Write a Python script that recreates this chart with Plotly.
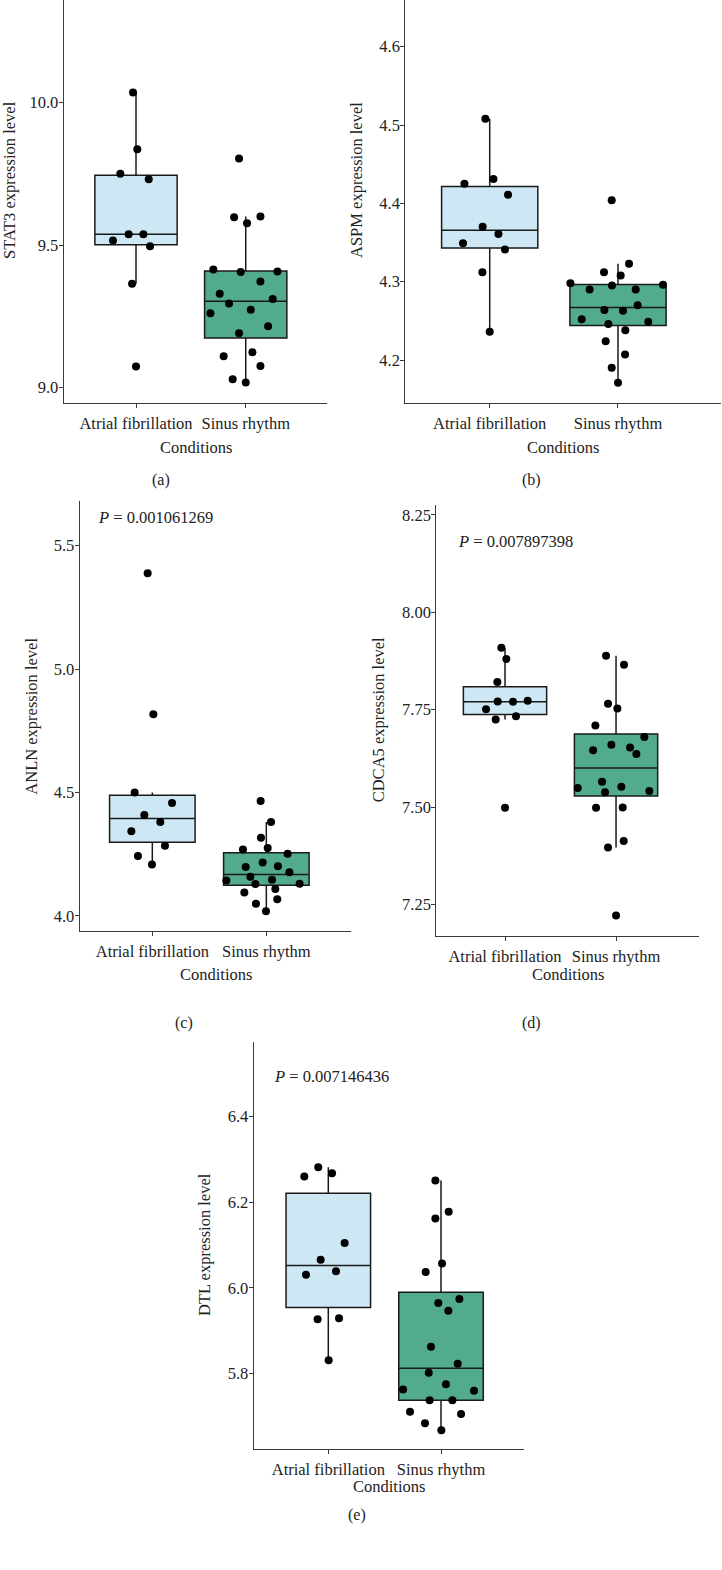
import numpy as np
import plotly.graph_objects as go

W, H = 722, 1570

categories = ["Atrial fibrillation", "Sinus rhythm"]
box_colors = ["#CDE8F4", "#52AA8F"]

# ---------- data ----------
stat3_af = [10.035, 9.836, 9.750, 9.731, 9.538, 9.538, 9.516, 9.496, 9.364, 9.074]
stat3_af_jit = [-0.027, 0.012, -0.143, 0.116, -0.067, 0.067, -0.210, 0.128, -0.036, 0.0]
stat3_sr = [9.804, 9.598, 9.600, 9.577, 9.414, 9.406, 9.407, 9.372, 9.329, 9.311,
            9.295, 9.273, 9.261, 9.215, 9.191, 9.124, 9.110, 9.076, 9.029, 9.018]
stat3_sr_jit = [-0.061, -0.106, 0.134, 0.012, -0.295, -0.046, 0.289, 0.134, -0.237, 0.246,
                -0.152, 0.046, -0.322, 0.204, -0.061, 0.061, -0.201, 0.134, -0.119, 0.0]

aspm_af = [4.508, 4.431, 4.425, 4.411, 4.370, 4.361, 4.349, 4.341, 4.312, 4.236]
aspm_af_jit = [-0.034, 0.029, -0.197, 0.143, -0.055, 0.068, -0.208, 0.119, -0.057, 0.0]
aspm_sr = [4.404, 4.323, 4.312, 4.308, 4.298, 4.296, 4.295, 4.290, 4.290, 4.270,
           4.264, 4.263, 4.252, 4.249, 4.246, 4.238, 4.224, 4.207, 4.190, 4.171]
aspm_sr_jit = [-0.049, 0.086, -0.109, 0.021, -0.371, 0.351, -0.047, -0.221, 0.138, 0.153,
               -0.106, 0.039, -0.283, 0.236, -0.075, 0.057, -0.096, 0.055, -0.049, 0.0]

anln_af = [5.388, 4.817, 4.500, 4.458, 4.409, 4.381, 4.343, 4.284, 4.243, 4.209]
anln_af_jit = [-0.041, 0.009, -0.155, 0.173, -0.070, 0.070, -0.184, 0.111, -0.126, -0.003]
anln_sr = [4.466, 4.381, 4.317, 4.269, 4.275, 4.252, 4.217, 4.198, 4.201, 4.177,
           4.159, 4.144, 4.147, 4.130, 4.131, 4.109, 4.095, 4.068, 4.050, 4.019]
anln_sr_jit = [-0.050, 0.041, -0.047, -0.205, 0.012, 0.187, -0.032, -0.181, 0.102, 0.202,
               -0.140, -0.351, 0.050, -0.096, 0.292, 0.079, -0.193, 0.096, -0.091, -0.003]

cdca5_af = [7.909, 7.880, 7.821, 7.771, 7.770, 7.773, 7.751, 7.725, 7.733, 7.498]
cdca5_af_jit = [-0.033, 0.012, -0.069, -0.066, 0.072, 0.204, -0.171, -0.084, 0.099, 0.0]
cdca5_sr = [7.888, 7.865, 7.765, 7.753, 7.709, 7.680, 7.660, 7.653, 7.646, 7.636,
            7.565, 7.552, 7.549, 7.541, 7.538, 7.498, 7.499, 7.413, 7.396, 7.222]
cdca5_sr_jit = [-0.090, 0.072, -0.072, 0.012, -0.186, 0.255, -0.042, 0.126, -0.207, 0.183,
                -0.126, 0.048, -0.345, 0.300, -0.099, -0.180, 0.060, 0.069, -0.072, 0.0]

dtl_af = [6.282, 6.260, 6.268, 6.105, 6.066, 6.039, 6.031, 5.927, 5.929, 5.831]
dtl_af_jit = [-0.089, -0.213, 0.033, 0.145, -0.068, 0.068, -0.198, -0.095, 0.095, 0.003]
dtl_sr = [6.251, 6.178, 6.162, 6.057, 6.037, 5.974, 5.965, 5.947, 5.863, 5.823,
          5.802, 5.775, 5.763, 5.760, 5.738, 5.738, 5.711, 5.706, 5.684, 5.668]
dtl_sr_jit = [-0.050, 0.068, -0.050, 0.009, -0.136, 0.163, -0.024, 0.065, -0.089, 0.148,
              -0.109, 0.044, -0.337, 0.293, -0.101, 0.101, -0.275, 0.178, -0.142, 0.003]

y_titles = ["STAT3 expression level", "ASPM expression level", "ANLN expression level",
            "CDCA5 expression level", "DTL expression level"]
p_values = [None, None, "0.001061269", "0.007897398", "0.007146436"]
panel_labels = ["(a)", "(b)", "(c)", "(d)", "(e)"]
y_ticks = [[9.0, 9.5, 10.0], [4.2, 4.3, 4.4, 4.5, 4.6], [4.0, 4.5, 5.0, 5.5],
           [7.25, 7.50, 7.75, 8.00, 8.25], [5.8, 6.0, 6.2, 6.4]]
y_tick_fmt = [".1f", ".1f", ".1f", ".2f", ".1f"]

# ---------- layout geometry (pixels) ----------
panels = [
    dict(af=stat3_af, afj=stat3_af_jit, sr=stat3_sr, srj=stat3_sr_jit,
         xpx=(63.7, 326.7), ypx=(0, 402.7), xr=(-0.659, 1.738), yr=(8.947, 10.360),
         ytitle=(10, 180), xtitle=(195.7, 447.7), plab=(160.7, 480), ppos=None),
    dict(af=aspm_af, afj=aspm_af_jit, sr=aspm_sr, srj=aspm_sr_jit,
         xpx=(405.3, 721.0), ypx=(0, 402.7), xr=(-0.658, 1.803), yr=(4.1455, 4.6596),
         ytitle=(357, 180), xtitle=(563.3, 447.7), plab=(531.7, 480), ppos=None),
    dict(af=anln_af, afj=anln_af_jit, sr=anln_sr, srj=anln_sr_jit,
         xpx=(79.7, 350.7), ypx=(500.7, 931.3), xr=(-0.637, 1.740), yr=(3.938, 5.682),
         ytitle=(30.7, 716), xtitle=(215.7, 974.3), plab=(184, 1023), ppos=(95.7, 517.7)),
    dict(af=cdca5_af, afj=cdca5_af_jit, sr=cdca5_sr, srj=cdca5_sr_jit,
         xpx=(436.3, 699.3), ypx=(505, 935.7), xr=(-0.619, 1.750), yr=(7.170, 8.275),
         ytitle=(378.3, 720), xtitle=(567.7, 974.3), plab=(531.7, 1023), ppos=(455.7, 542)),
    dict(af=dtl_af, afj=dtl_af_jit, sr=dtl_sr, srj=dtl_sr_jit,
         xpx=(253.7, 524.3), ypx=(1041.7, 1449), xr=(-0.662, 1.739), yr=(5.624, 6.575),
         ytitle=(204, 1245), xtitle=(389.3, 1486), plab=(356.7, 1515), ppos=(271.7, 1076)),
]

FONT = "Liberation Serif, serif"
FS = 16.5
TXT = "#222222"
AX = "#3a3a3a"


def px_x(x):
    return x / W


def px_y(y):
    return 1 - y / H


def box_stats(vals):
    v = np.asarray(vals, dtype=float)
    q1, med, q3 = np.percentile(v, [25, 50, 75])
    iqr = q3 - q1
    lo = v[v >= q1 - 1.5 * iqr].min()
    hi = v[v <= q3 + 1.5 * iqr].max()
    return q1, med, q3, lo, hi


fig = go.Figure()
annotations = []

for i, p in enumerate(panels):
    n = "" if i == 0 else str(i + 1)
    xa, ya = "x" + n, "y" + n
    for ci, (vals, jit) in enumerate([(p["af"], p["afj"]), (p["sr"], p["srj"])]):
        q1, med, q3, lo, hi = box_stats(vals)
        fig.add_trace(go.Box(
            x=[ci], q1=[q1], median=[med], q3=[q3], lowerfence=[lo], upperfence=[hi],
            width=0.75, whiskerwidth=0, boxpoints=False,
            fillcolor=box_colors[ci], line=dict(color="#1a1a1a", width=1.5),
            name=categories[ci], showlegend=False, xaxis=xa, yaxis=ya,
        ))
    for ci, (vals, jit) in enumerate([(p["af"], p["afj"]), (p["sr"], p["srj"])]):
        fig.add_trace(go.Scatter(
            x=[ci + j for j in jit], y=vals, mode="markers",
            marker=dict(color="black", size=8, line=dict(width=0)),
            showlegend=False, xaxis=xa, yaxis=ya, cliponaxis=False,
        ))

    fig.layout["xaxis" + n] = dict(
        domain=[px_x(p["xpx"][0]), px_x(p["xpx"][1])], anchor=ya,
        range=list(p["xr"]), tickvals=[0, 1], ticktext=categories,
        showline=True, linecolor=AX, linewidth=1.2, ticks="outside", ticklen=4,
        tickcolor=AX, tickwidth=1.2, showgrid=False, zeroline=False,
        tickfont=dict(family=FONT, size=FS, color=TXT), ticklabelstandoff=1,
    )
    fig.layout["yaxis" + n] = dict(
        domain=[px_y(p["ypx"][1]), px_y(p["ypx"][0])], anchor=xa,
        range=list(p["yr"]), tickvals=y_ticks[i], tickformat=y_tick_fmt[i],
        showline=True, linecolor=AX, linewidth=1.2, ticks="outside", ticklen=4,
        tickcolor=AX, tickwidth=1.2, showgrid=False, zeroline=False,
        tickfont=dict(family=FONT, size=FS, color=TXT), ticklabelstandoff=-3,
    )

    annotations.append(dict(
        text=y_titles[i], x=px_x(p["ytitle"][0]), y=px_y(p["ytitle"][1]),
        xref="paper", yref="paper", textangle=-90, showarrow=False,
        xanchor="center", yanchor="middle", font=dict(family=FONT, size=FS, color=TXT)))
    annotations.append(dict(
        text="Conditions", x=px_x(p["xtitle"][0]), y=px_y(p["xtitle"][1]),
        xref="paper", yref="paper", showarrow=False,
        xanchor="center", yanchor="middle", font=dict(family=FONT, size=FS, color=TXT)))
    annotations.append(dict(
        text=panel_labels[i], x=px_x(p["plab"][0]), y=px_y(p["plab"][1]),
        xref="paper", yref="paper", showarrow=False,
        xanchor="center", yanchor="middle", font=dict(family=FONT, size=16, color=TXT)))
    if p_values[i] is not None:
        annotations.append(dict(
            text="<i>P</i> = " + p_values[i], x=px_x(p["ppos"][0]), y=px_y(p["ppos"][1]),
            xref="paper", yref="paper", showarrow=False,
            xanchor="left", yanchor="middle", font=dict(family=FONT, size=FS, color=TXT)))

fig.update_layout(
    width=W, height=H, margin=dict(l=0, r=0, t=0, b=0),
    paper_bgcolor="white", plot_bgcolor="white",
    annotations=annotations, boxmode="overlay",
)

fig.write_html(
    "out.html",
    config={"displayModeBar": False},
    post_script="document.body.style.margin='0';document.body.style.padding='0';"
                "document.body.style.overflow='hidden';",
)
